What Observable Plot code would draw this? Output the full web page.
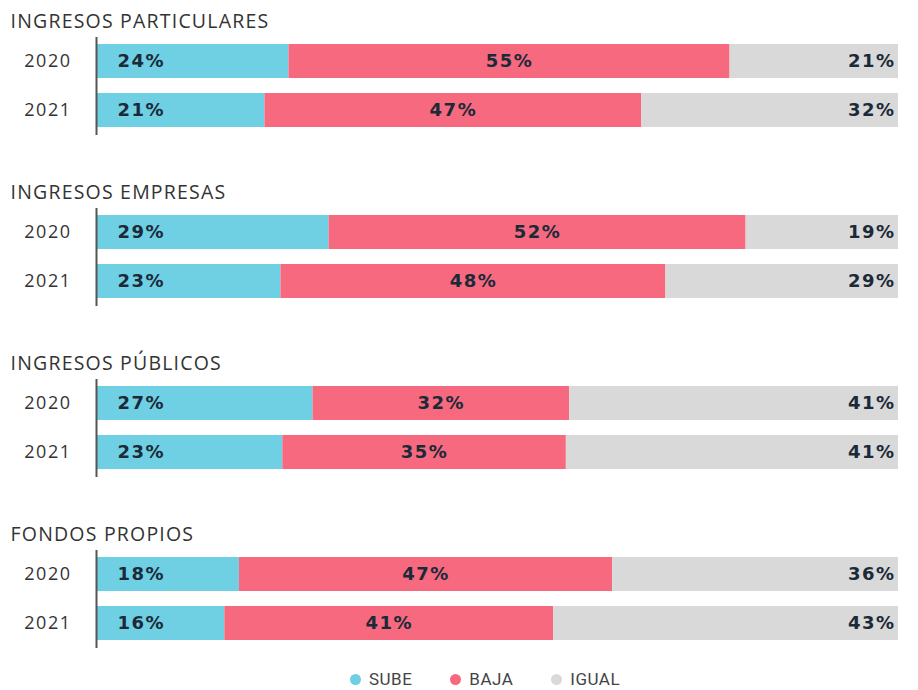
<!DOCTYPE html>
<html>
<head>
<meta charset="utf-8">
<script src="https://cdn.jsdelivr.net/npm/d3@7"></script>
<script src="https://cdn.jsdelivr.net/npm/@observablehq/plot@0.6"></script>
<style>
  html, body { margin: 0; padding: 0; background: #fff; }
  body { width: 918px; height: 690px; overflow: hidden; font-family: "Open Sans", Roboto, sans-serif; }
  #legend { display: flex; justify-content: center; gap: 38px; font-size: 17px; color: #444; margin-top: 11px; padding-left: 52px; font-family: Roboto, sans-serif; letter-spacing: 0.5px; }
  #legend span.item { display: inline-flex; align-items: center; gap: 8px; }
  #legend span.dot { width: 11px; height: 11px; border-radius: 50%; display: inline-block; }
  g[aria-label='y-axis tick label'] text { letter-spacing: 1.5px; }
</style>
</head>
<body>
<div id="chart"></div>
<div id="legend"></div>
<script>
const groups = ["INGRESOS PARTICULARES", "INGRESOS EMPRESAS", "INGRESOS PÚBLICOS", "FONDOS PROPIOS"];
const years = ["2020", "2021"];
const categories = ["SUBE", "BAJA", "IGUAL"];
const colors = ["#6fcfe3", "#f7697f", "#d9d9d9"];
// values per group, per year: [SUBE, BAJA, IGUAL]
const sube = [[24, 21], [29, 23], [27, 23], [18, 16]];
const baja = [[55, 47], [52, 48], [32, 35], [47, 41]];
const igual = [[21, 32], [19, 29], [41, 41], [36, 43]];

const series = [sube, baja, igual];
const data = [];
groups.forEach((g, gi) => {
  years.forEach((y, yi) => {
    categories.forEach((c, ci) => {
      data.push({group: g, year: y, cat: c, value: series[ci][gi][yi]});
    });
  });
});

const stackOpts = {x: "value", y: "year", fy: "group", z: "cat", order: categories, offset: "normalize"};
const pctFont = {fontFamily: "'DejaVu Sans', sans-serif", fontSize: 18, fontWeight: "bold", fill: "#1b2a38"};

const plot = Plot.plot({
  width: 918,
  height: 658,
  marginTop: 37,
  marginBottom: 10,
  marginLeft: 96,
  marginRight: 20,
  style: {fontFamily: "'Open Sans', Roboto, sans-serif", background: "transparent"},
  x: {axis: null, domain: [0, 1]},
  y: {domain: years, paddingInner: 0.3, paddingOuter: 0.15, tickSize: 0, tickPadding: 25, label: null},
  fy: {domain: groups, axis: null, paddingInner: 0.427, paddingOuter: 0},
  color: {domain: categories, range: colors},
  marks: [
    Plot.barX(data, Plot.stackX({...stackOpts, fill: "cat"})),
    Plot.ruleX([0], {stroke: "#555", strokeWidth: 2}),
    Plot.text(data.filter(d => d.cat === "SUBE"), {
      y: "year", fy: "group", text: d => d.value + "%", frameAnchor: "left",
      textAnchor: "start", dx: 21, ...pctFont
    }),
    Plot.text(data, Plot.stackX({
      ...stackOpts, text: d => d.cat === "BAJA" ? d.value + "%" : "", ...pctFont
    })),
    Plot.text(data.filter(d => d.cat === "IGUAL"), {
      y: "year", fy: "group", text: d => d.value + "%", frameAnchor: "right",
      textAnchor: "end", dx: -3, ...pctFont
    }),
    Plot.text(groups, {
      fy: d => d, text: d => d, frameAnchor: "top-left", lineAnchor: "bottom",
      textAnchor: "start", dx: -86, dy: -10, fontSize: 19.5, fill: "#333"
    })
  ]
});
plot.querySelectorAll("g[aria-label='y-axis tick label']").forEach(e => { e.setAttribute("font-size", "18"); e.setAttribute("fill", "#333"); });
plot.querySelectorAll("text").forEach(t => {
  const s = t.textContent;
  if (groups.includes(s)) t.setAttribute("letter-spacing", "1.2");
  else if (s.endsWith("%")) t.setAttribute("letter-spacing", "1.5");
});
document.getElementById("chart").appendChild(plot);

const legend = document.getElementById("legend");
categories.forEach((c, i) => {
  const item = document.createElement("span");
  item.className = "item";
  const dot = document.createElement("span");
  dot.className = "dot";
  dot.style.background = colors[i];
  item.appendChild(dot);
  item.appendChild(document.createTextNode(c));
  legend.appendChild(item);
});
</script>
</body>
</html>
